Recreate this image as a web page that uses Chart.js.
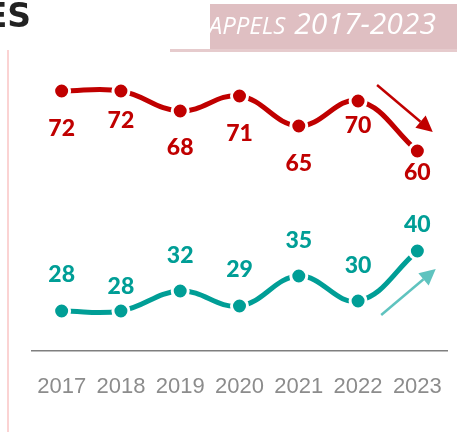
<!DOCTYPE html>
<html>
<head>
<meta charset="utf-8">
<script src="https://cdn.jsdelivr.net/npm/chart.js@4"></script>
<style>
  html, body { margin: 0; padding: 0; background: #fff; }
  #wrap { position: relative; width: 461px; height: 432px; overflow: hidden; }
  #chart { position: absolute; left: 0; top: 0; }
  .side { position: absolute; left: 7px; top: 50px; width: 2px; height: 382px; background: #fbd3d3; }
  .head { position: absolute; right: 430px; top: -4px; font: bold 33px "DejaVu Sans", sans-serif; color: #222; white-space: nowrap; }
  .box { position: absolute; left: 210px; top: 4px; width: 247px; height: 45px; background: #dfbfc2; }
  .strip { position: absolute; left: 170px; top: 49px; width: 287px; height: 3px; background: #e6cbcd; }
  .title { position: absolute; left: 195px; top: 2px; color: #fff; font-family: "Open Sans", sans-serif; font-style: italic; white-space: nowrap; }
  .title .a { font-size: 24px; margin-right: 9px; }
  .title .b { font-size: 30px; }
</style>
</head>
<body>
<div id="wrap">
  <canvas id="chart" width="461" height="432"></canvas>
  <div class="side"></div>
  <div class="head">ES</div>
  <div class="strip"></div>
  <div class="box"></div>
  <div class="title"><span class="a">RAPPELS</span><span class="b">2017-2023</span></div>
</div>
<script>
const annees = ['2017', '2018', '2019', '2020', '2021', '2022', '2023'];
const serieRouge = [72, 72, 68, 71, 65, 70, 60];
const serieVerte = [28, 28, 32, 29, 35, 30, 40];

const ROUGE = '#c00000';
const VERT = '#009e96';
const VERT_CLAIR = '#5fc3bf';

// decalage vertical des etiquettes (negatif = au-dessus)
const decalRouge = [38, 30, 37, 38, 38, 25, 22];
const decalVerte = [-36, -24, -35, -36, -35, -35, -26];

const etiquettes = {
  id: 'etiquettes',
  afterDatasetsDraw(chart) {
    const ctx = chart.ctx;
    ctx.save();
    ctx.font = '900 23px Lato, sans-serif';
    ctx.textAlign = 'center';
    ctx.textBaseline = 'middle';
    chart.data.datasets.forEach((ds, i) => {
      const decal = i === 0 ? decalRouge : decalVerte;
      ctx.fillStyle = ds.borderColor;
      chart.getDatasetMeta(i).data.forEach((pt, j) => {
        ctx.fillText(ds.data[j], pt.x, pt.y + decal[j]);
      });
    });
    ctx.restore();
  }
};

function fleche(ctx, x1, y1, x2, y2, couleur) {
  const ang = Math.atan2(y2 - y1, x2 - x1);
  const L = 16, W = 8;
  const bx = x2 - L * Math.cos(ang), by = y2 - L * Math.sin(ang);
  ctx.strokeStyle = couleur;
  ctx.fillStyle = couleur;
  ctx.lineWidth = 2.5;
  ctx.beginPath();
  ctx.moveTo(x1, y1);
  ctx.lineTo(bx, by);
  ctx.stroke();
  ctx.beginPath();
  ctx.moveTo(x2, y2);
  ctx.lineTo(bx + W * Math.sin(ang), by - W * Math.cos(ang));
  ctx.lineTo(bx - W * Math.sin(ang), by + W * Math.cos(ang));
  ctx.closePath();
  ctx.fill();
}

const fleches = {
  id: 'fleches',
  afterDatasetsDraw(chart) {
    const x = chart.scales.x, y = chart.scales.y;
    const ctx = chart.ctx;
    ctx.save();
    fleche(ctx, x.getPixelForValue(5.32), y.getPixelForValue(73.2),
      x.getPixelForValue(6.26), y.getPixelForValue(63.8), ROUGE);
    fleche(ctx, x.getPixelForValue(5.39), y.getPixelForValue(27.2),
      x.getPixelForValue(6.31), y.getPixelForValue(36.4), VERT_CLAIR);
    ctx.restore();
  }
};

new Chart(document.getElementById('chart'), {
  type: 'line',
  data: {
    labels: annees,
    datasets: [
      {
        data: serieRouge,
        borderColor: ROUGE,
        backgroundColor: ROUGE,
        borderWidth: 5,
        tension: 0.4,
        pointRadius: 8,
        pointBorderWidth: 3,
        pointBorderColor: '#fff',
        pointBackgroundColor: ROUGE
      },
      {
        data: serieVerte,
        borderColor: VERT,
        backgroundColor: VERT,
        borderWidth: 5,
        tension: 0.4,
        pointRadius: 8,
        pointBorderWidth: 3,
        pointBorderColor: '#fff',
        pointBackgroundColor: VERT
      }
    ]
  },
  options: {
    responsive: false,
    animation: false,
    layout: { padding: { left: 32, right: 14, top: 51, bottom: 31 } },
    plugins: { legend: { display: false }, tooltip: { enabled: false } },
    scales: {
      x: {
        offset: true,
        grid: { display: false, drawTicks: false },
        border: { display: true, color: '#7f7f7f', width: 1.5 },
        ticks: {
          color: '#8c8c8c',
          padding: 23,
          maxRotation: 0,
          autoSkip: false,
          font: { family: '"Liberation Sans", Arial, sans-serif', size: 22 }
        },
        afterFit(scale) {
          scale.height = 50;
          scale.paddingLeft = 0;
          scale.paddingRight = 0;
        }
      },
      y: { display: false, min: 20, max: 80 }
    }
  },
  plugins: [etiquettes, fleches]
});
</script>
</body>
</html>
